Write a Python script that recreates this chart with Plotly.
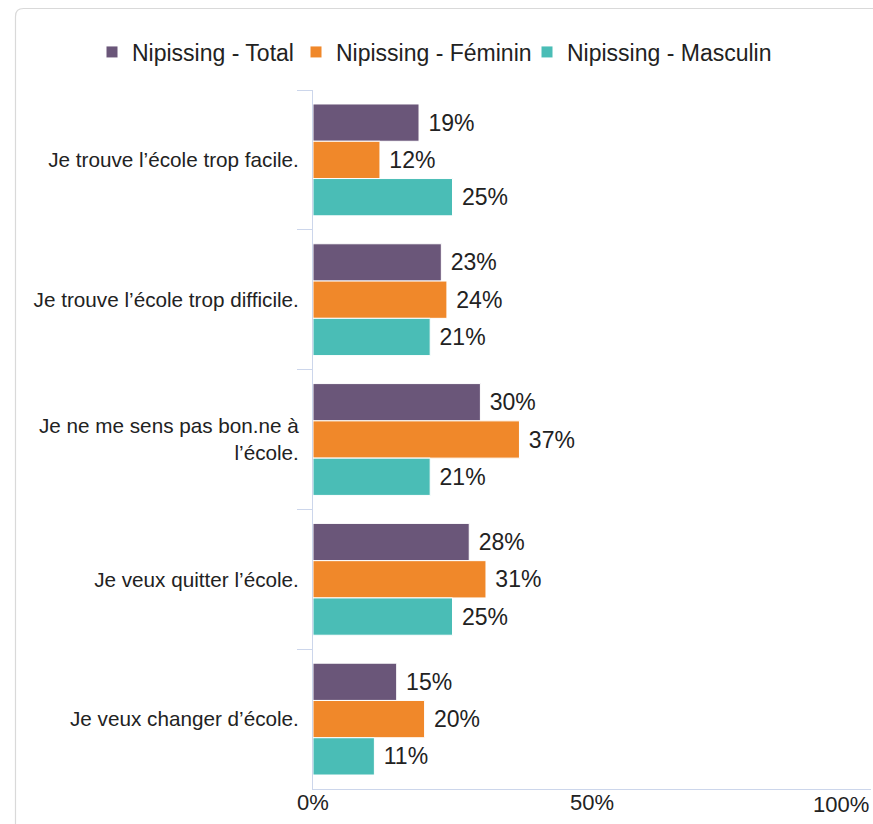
import plotly.graph_objects as go

categories = [
    "Je trouve l’école trop facile.",
    "Je trouve l’école trop difficile.",
    "Je ne me sens pas bon.ne à<br>l’école.",
    "Je veux quitter l’école.",
    "Je veux changer d’école.",
]
series_names = ["Nipissing - Total", "Nipissing - Féminin", "Nipissing - Masculin"]
total = [19, 23, 30, 28, 15]
feminin = [12, 24, 37, 31, 20]
masculin = [25, 21, 21, 25, 11]
colors = ["#6a5679", "#f0882a", "#4abdb6"]
x_tick_vals = [0, 50, 100]
x_tick_text = ["0%", "50%", ""]

FONT = "Liberation Sans, Arial, sans-serif"
W, H = 873, 824
L, R, T, B = 313, 2, 90, 35
PW, PH = W - L - R, H - T - B

def px_x(px):  # page px -> paper x
    return (px - L) / PW

def px_y(py):  # page px -> paper y
    return (H - B - py) / PH

legend_ids = ["legend", "legend2", "legend3"]
legend_text_x = [132, 336, 567]  # page px where legend texts start

fig = go.Figure()
for name, vals, col, lg in zip(series_names, [total, feminin, masculin], colors, legend_ids):
    fig.add_trace(go.Bar(
        y=categories, x=vals, name=name, orientation="h", legend=lg,
        marker=dict(color=col, line=dict(color="white", width=1)),
        text=vals, texttemplate=" %{x}%", textposition="outside",
        textfont=dict(size=23, color="#222", family=FONT),
        cliponaxis=False, hoverinfo="skip",
    ))

# rounded border of the chart container
x0, y0 = px_x(15.5), px_y(8.5)
x1, y1 = px_x(890), px_y(845)
rx, ry = 8 / PW, 8 / PH
path = (f"M {x0},{y1} L {x0},{y0 - ry} Q {x0},{y0} {x0 + rx},{y0} L {x1},{y0}")
fig.add_shape(type="path", xref="paper", yref="paper", path=path,
              line=dict(color="#d9d9d9", width=1.2), layer="below")

fig.add_annotation(x=100, xref="x", y=0, yref="paper", yanchor="top", xanchor="right",
                   text="100%", showarrow=False, yshift=-1,
                   font=dict(size=22, color="#222", family=FONT))

legend_layout = {}
for lg, tx in zip(legend_ids, legend_text_x):
    legend_layout[lg] = dict(
        orientation="h", xref="container", x=(tx - 40) / W, xanchor="left",
        yref="container", y=1 - 52 / H, yanchor="middle",
        font=dict(size=23, color="#222", family=FONT),
        itemclick=False, itemdoubleclick=False, bgcolor="rgba(0,0,0,0)",
    )

fig.update_layout(
    width=W, height=H,
    margin=dict(l=L, r=R, t=T, b=B),
    paper_bgcolor="white", plot_bgcolor="white",
    barmode="group", bargap=0.2, bargroupgap=0,
    font=dict(family=FONT, color="#222"),
    showlegend=True,
    xaxis=dict(range=[0, 100], tickvals=x_tick_vals, ticktext=x_tick_text,
               showgrid=False, zeroline=False, showline=True, linecolor="#ccd6eb",
               linewidth=1, ticks="", ticklabelstandoff=-6,
               tickfont=dict(size=22, color="#222", family=FONT)),
    yaxis=dict(autorange="reversed", showline=True, linecolor="#ccd6eb", linewidth=1,
               ticks="outside", ticklen=15, tickcolor="#ccd6eb", tickson="boundaries",
               ticklabelstandoff=9,
               showgrid=False, tickfont=dict(size=20.7, color="#222", family=FONT)),
    **legend_layout,
)

fig.write_html("out.html", config={"displayModeBar": False},
               post_script="document.body.style.margin='0';document.body.style.overflow='hidden';")
